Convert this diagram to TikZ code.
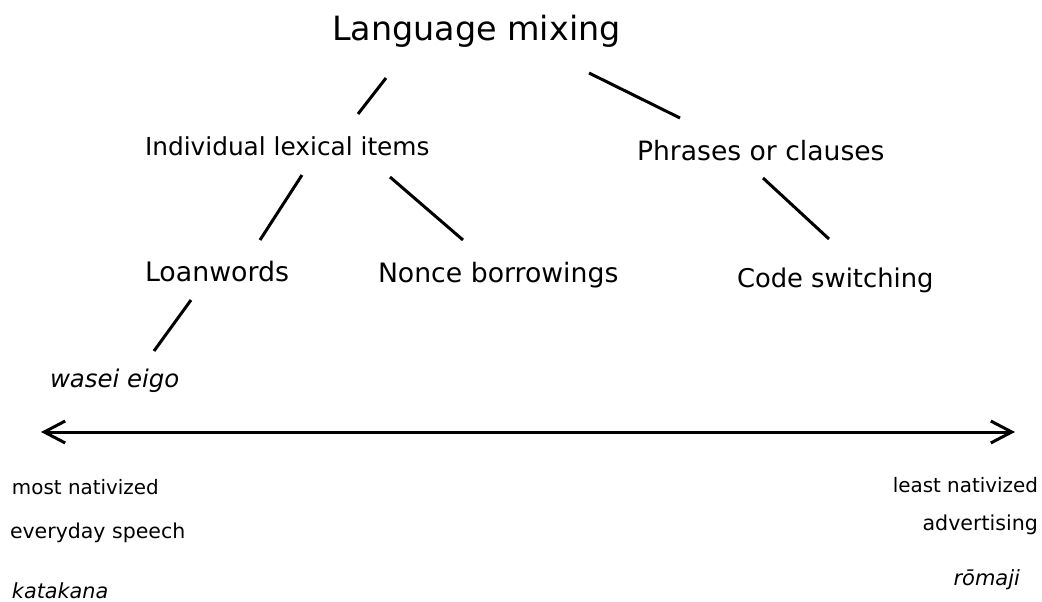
\documentclass[tikz,border=0pt]{standalone}
\usepackage{fontspec}
\setmainfont{DejaVu Sans}
\usetikzlibrary{arrows.meta}
\begin{document}
\begin{tikzpicture}[x=1pt,y=-1pt,
  txt/.style={inner sep=0pt,outer sep=0pt,text=black},
  big/.style={txt,font=\fontsize{33.4}{38}\selectfont},
  mid/.style={txt,font=\fontsize{26}{30}\selectfont},
  small/.style={txt,font=\fontsize{20.2}{24}\selectfont},
  link/.style={line width=3pt,line cap=butt},
  axisline/.style={line width=3pt,{Straight Barb[length=21pt,width=22pt]}-{Straight Barb[length=21pt,width=22pt]}}]
\useasboundingbox (0,0) rectangle (1042,602);
\node[big,anchor=base west] (lm) at (332,41) {Language mixing};
\node[mid,anchor=base west,font=\fontsize{24.8}{30}\selectfont] (ind) at (145,155) {Individual lexical items};
\node[mid,anchor=base west,font=\fontsize{26.6}{30}\selectfont] (phr) at (637,160) {Phrases or clauses};
\node[mid,anchor=base west,font=\fontsize{26.8}{30}\selectfont] (loan) at (145,281) {Loanwords};
\node[mid,anchor=base west,font=\fontsize{26.7}{30}\selectfont] (nonce) at (378,282) {Nonce borrowings};
\node[mid,anchor=base west,font=\fontsize{25.8}{30}\selectfont] (code) at (737,287) {Code switching};
\node[mid,anchor=base west,font=\fontsize{24.4}{30}\selectfont\itshape] (wasei) at (50,387) {wasei eigo};
\node[small,anchor=base west,font=\fontsize{19.9}{24}\selectfont] (most) at (12,494) {most nativized};
\node[small,anchor=base west,font=\fontsize{20.5}{24}\selectfont] (every) at (10,538) {everyday speech};
\node[small,anchor=base west,font=\fontsize{20.8}{24}\selectfont\itshape] (kata) at (12,598) {katakana};
\node[small,anchor=base east,font=\fontsize{19.9}{24}\selectfont] (least) at (1038,492) {least nativized};
\node[small,anchor=base east,font=\fontsize{20.6}{24}\selectfont] (adv) at (1038,530) {advertising};
\node[small,anchor=base east,font=\fontsize{21}{24}\selectfont\itshape] (romaji) at (1020,585) {rōmaji};
\draw[link] ([shift={(54,37)}]lm.base west) -- ([shift={(213,-41)}]ind.base west);
\draw[link] ([shift={(257,32)}]lm.base west) -- ([shift={(43,-42)}]phr.base west);
\draw[link] ([shift={(157,20)}]ind.base west) -- ([shift={(115,-41)}]loan.base west);
\draw[link] ([shift={(245,22)}]ind.base west) -- ([shift={(85,-42)}]nonce.base west);
\draw[link] ([shift={(126,18)}]phr.base west) -- ([shift={(92,-48)}]code.base west);
\draw[link] ([shift={(46,19)}]loan.base west) -- ([shift={(104,-36)}]wasei.base west);
\coordinate (left) at (41,432);
\coordinate (right) at (1015,432);
\draw[axisline] (left) -- (right);
\end{tikzpicture}
\end{document}
